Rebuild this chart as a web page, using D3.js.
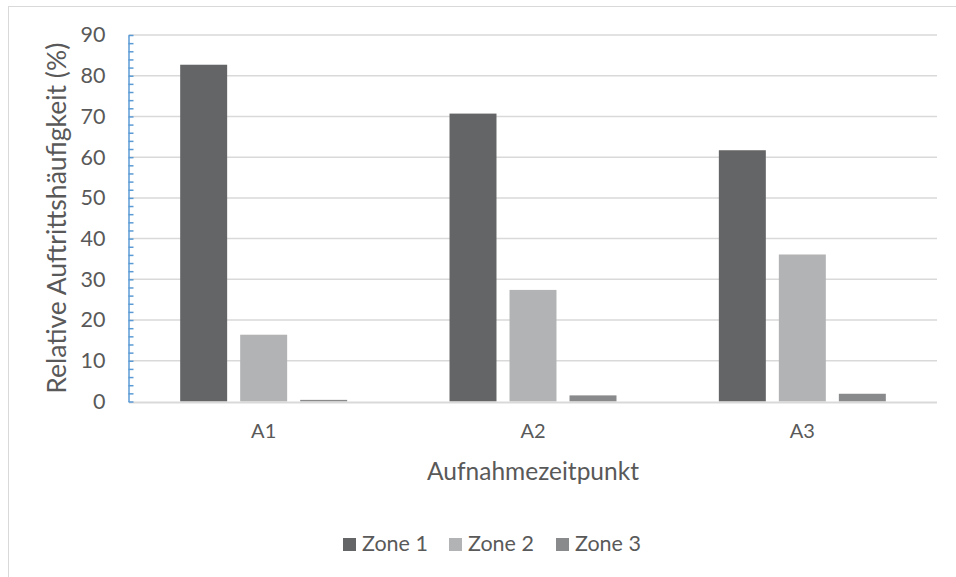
<!DOCTYPE html>
<html>
<head>
<meta charset="utf-8">
<script src="https://cdn.jsdelivr.net/npm/d3@7"></script>
<style>
  html, body { margin: 0; padding: 0; background: #fff; }
  svg { display: block; font-family: Lato, "Open Sans", sans-serif; }
</style>
</head>
<body>
<svg id="chart" width="956" height="577"></svg>
<script>
// Aufnahmezeitpunkte and zones
const categories = ["A1", "A2", "A3"];
const zones = ["Zone 1", "Zone 2", "Zone 3"];
// Relative Auftrittshäufigkeit (%) per zone, one value per Aufnahmezeitpunkt
const zone1 = [82.7, 70.7, 61.7];
const zone2 = [16.4, 27.4, 36.1];
const zone3 = [0.4, 1.5, 1.9];
const yTicks = [0, 10, 20, 30, 40, 50, 60, 70, 80, 90];
const yTitle = "Relative Auftrittshäufigkeit (%)";
const xTitle = "Aufnahmezeitpunkt";

const series = [zone1, zone2, zone3];
const colors = ["#646566", "#b2b3b4", "#898a8c"];
const textColor = "#595959";

const svg = d3.select("#chart");
const plot = { left: 129, right: 937, top: 35, bottom: 401.5 };

// chart frame
svg.append("rect")
  .attr("x", 8.5).attr("y", 6.5)
  .attr("width", 960).attr("height", 580)
  .attr("fill", "none").attr("stroke", "#d9d9d9").attr("stroke-width", 1);

const y = d3.scaleLinear().domain([0, 90]).range([plot.bottom, plot.top]);
const x = d3.scaleBand().domain(categories).range([plot.left, plot.right]).padding(0);
const xi = d3.scaleBand().domain(zones).range([0, x.bandwidth()])
  .paddingInner(0.217).paddingOuter(0.853);

// horizontal gridlines
svg.append("g").selectAll("line")
  .data(yTicks.filter(d => d > 0))
  .join("line")
  .attr("x1", plot.left).attr("x2", plot.right)
  .attr("y1", d => y(d)).attr("y2", d => y(d))
  .attr("stroke", "#d9d9d9").attr("stroke-width", 1.5);

// bars
const groups = svg.append("g").selectAll("g")
  .data(categories)
  .join("g")
  .attr("transform", d => `translate(${x(d)},0)`);

groups.selectAll("rect")
  .data((c, ci) => zones.map((z, zi) => ({ zone: z, zi, value: series[zi][ci] })))
  .join("rect")
  .attr("x", d => xi(d.zone))
  .attr("width", xi.bandwidth())
  .attr("y", d => y(d.value))
  .attr("height", d => y(0) - y(d.value))
  .attr("fill", d => colors[d.zi]);

// category axis baseline
svg.append("line")
  .attr("x1", plot.left).attr("x2", plot.right)
  .attr("y1", plot.bottom + 1).attr("y2", plot.bottom + 1)
  .attr("stroke", "#d9d9d9").attr("stroke-width", 2);

// value axis with minor ticks every 2 %
const yAxis = d3.axisLeft(y)
  .tickValues(d3.range(0, 91, 2))
  .tickSizeInner(-5).tickSizeOuter(0)
  .tickPadding(23)
  .tickFormat(d => (d % 10 === 0 ? d : ""));

const ya = svg.append("g")
  .attr("transform", `translate(${plot.left - 0.5},0)`)
  .call(yAxis);
ya.select(".domain").attr("stroke", "#5b9bd5").attr("stroke-width", 1.5);
ya.selectAll(".tick line").attr("stroke", "#5b9bd5").attr("stroke-width", 1.5);
ya.selectAll(".tick text")
  .attr("fill", textColor)
  .style("font-size", "21.5px")
  .style("font-family", "Lato, 'Open Sans', sans-serif");

// category labels
const xAxis = d3.axisBottom(x).tickSize(0).tickPadding(22);
const xa = svg.append("g")
  .attr("transform", `translate(0,${plot.bottom})`)
  .call(xAxis);
xa.select(".domain").remove();
xa.selectAll(".tick text")
  .attr("fill", textColor)
  .style("font-size", "20px")
  .style("font-family", "Lato, 'Open Sans', sans-serif");

// axis titles
svg.append("text")
  .attr("transform", `translate(66,${(plot.top + plot.bottom) / 2}) rotate(-90)`)
  .attr("text-anchor", "middle")
  .attr("fill", textColor)
  .style("font-size", "26.5px")
  .text(yTitle);

svg.append("text")
  .attr("x", (plot.left + plot.right) / 2)
  .attr("y", 480)
  .attr("text-anchor", "middle")
  .attr("fill", textColor)
  .style("font-size", "24.5px")
  .text(xTitle);

// legend
const legendX = [343, 449, 556];
const legend = svg.append("g").selectAll("g")
  .data(zones)
  .join("g")
  .attr("transform", (d, i) => `translate(${legendX[i]},538)`);
legend.append("rect")
  .attr("width", 13).attr("height", 13)
  .attr("fill", (d, i) => colors[i]);
legend.append("text")
  .attr("x", 19).attr("y", 13)
  .attr("fill", textColor)
  .style("font-size", "21.5px")
  .text(d => d);
</script>
</body>
</html>
